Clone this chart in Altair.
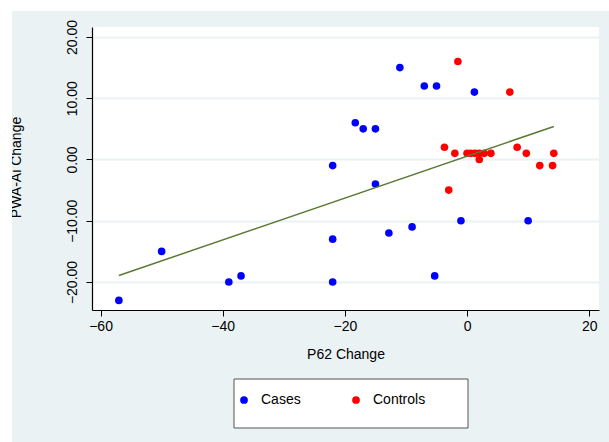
import altair as alt
import pandas as pd

# ---- data ----
cases_x = [-57, -50, -39, -37, -11, -7, -5, 1.2, -18.3, -17, -15, -22, -15, -12.8, -9, -1, 10, -22, -22, -5.3]
cases_y = [-23, -15, -20, -19, 15, 12, 12, 11, 6, 5, 5, -1, -4, -12, -11, -10, -10, -13, -20, -19]
controls_x = [-1.5, 7, -3.7, -2, 0, 0.6, 1.3, 2, 2.8, 3.9, 2, -3, 8.2, 9.7, 11.9, 14, 14.2]
controls_y = [16, 11, 2, 1, 1, 1, 1, 1, 1, 1, 0, -5, 2, 1, -1, -1, 1]
groups = ["Cases", "Controls"]
group_colors = ["#0000FF", "#FF0000"]
x_ticks = [-60, -40, -20, 0, 20]
y_ticks = [-20, -10, 0, 10, 20]

df = pd.DataFrame({
    "p62": cases_x + controls_x,
    "pwa": cases_y + controls_y,
    "group": [groups[0]] * len(cases_x) + [groups[1]] * len(controls_x),
})

W, H = 507, 283
FONT = "Liberation Sans"
BG = "#EAF2F3"

xs = alt.Scale(domain=[-61.4, 21.6], nice=False, zero=False)
ys = alt.Scale(domain=[-24.57, 21.63], nice=False, zero=False)

x_axis = alt.Axis(values=x_ticks, format="d", title="P62 Change", grid=False,
                  domainColor="black", domainWidth=1.2, tickColor="black", tickSize=6,
                  labelFontSize=14, labelPadding=3, labelColor="black", labelFont=FONT,
                  titleFontSize=14, titleFontWeight="normal", titleColor="black", titleFont=FONT,
                  titleY=48, titleBaseline="alphabetic", labelFlush=False)
y_axis = alt.Axis(values=y_ticks, format=".2f", title="PWA-Ai Change", grid=True,
                  gridColor=BG, gridWidth=2, domainColor="black", domainWidth=1.2,
                  tickColor="black", tickSize=6, labelAngle=270, labelAlign="center",
                  labelBaseline="alphabetic", labelPadding=10, labelFontSize=14,
                  labelColor="black", labelFont=FONT,
                  titleAngle=270, titleX=-72, titleY=140, titleAlign="center",
                  titleBaseline="alphabetic", titleFontSize=14, titleFontWeight="normal",
                  titleColor="black", titleFont=FONT, labelFlush=False)

one = alt.Data(values=[{}])

top_strip = alt.Chart(one).mark_rect(fill="white").encode(
    x=alt.value(-92), x2=alt.value(517), y=alt.value(-27), y2=alt.value(-16))
left_strip = alt.Chart(one).mark_rect(fill="white").encode(
    x=alt.value(-92), x2=alt.value(-80), y=alt.value(-27), y2=alt.value(415))
legend_box = alt.Chart(one).mark_rect(fill="white", stroke="#555555", strokeWidth=1).encode(
    x=alt.value(142), x2=alt.value(376), y=alt.value(352), y2=alt.value(401))

points = alt.Chart(df).mark_circle(size=58, opacity=1).encode(
    x=alt.X("p62:Q", scale=xs, axis=x_axis),
    y=alt.Y("pwa:Q", scale=ys, axis=y_axis),
    color=alt.Color("group:N",
                    scale=alt.Scale(domain=groups, range=group_colors),
                    legend=alt.Legend(orient="none", legendX=145, legendY=366,
                                      direction="horizontal", columns=2, title=None,
                                      symbolType="circle", symbolSize=60,
                                      symbolStrokeWidth=0, labelFontSize=14,
                                      labelFont=FONT, labelColor="black",
                                      labelOffset=10, columnPadding=48, padding=0)),
)

fit = alt.Chart(df).transform_regression("p62", "pwa").mark_line(
    color="#5A7A34", strokeWidth=1.5).encode(
    x=alt.X("p62:Q", scale=xs, axis=x_axis),
    y=alt.Y("pwa:Q", scale=ys, axis=y_axis),
)

chart = alt.layer(top_strip, left_strip, legend_box, points, fit).properties(
    width=W, height=H,
    autosize=alt.AutoSizeParams(type="none"),
    padding={"left": 92, "top": 27, "right": 10, "bottom": 132},
).configure(
    background=BG, font=FONT,
).configure_view(fill="white", stroke=None)

chart.save("out.html", embed_options={"renderer": "svg", "actions": False})
